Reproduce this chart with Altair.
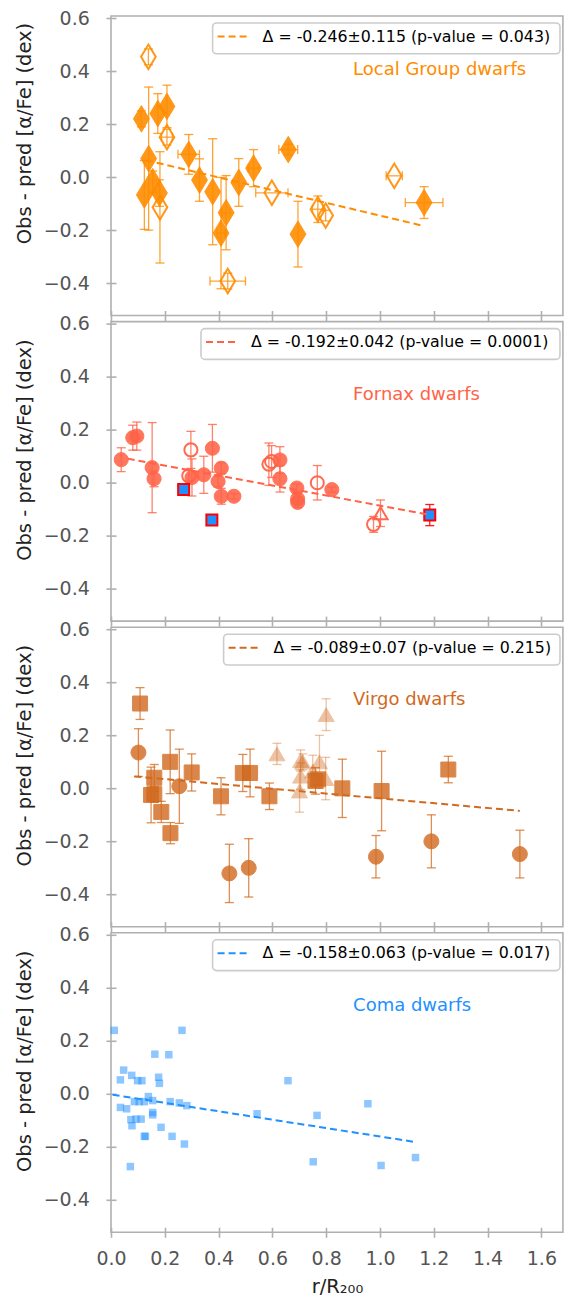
import altair as alt
import pandas as pd

FONT = "DejaVu Sans"
PX_PER_UNIT = 269.0
XMAX = 1.68
W = XMAX * PX_PER_UNIT
H = 299.5
YMIN, YMAX = -0.522, 0.608

# ---------------- data ----------------
# Local Group dwarfs
lg_fill_x = [0.113, 0.140, 0.124, 0.155, 0.174, 0.208, 0.180, 0.289, 0.329, 0.378, 0.428, 0.409, 0.475, 0.530, 0.659, 0.695, 1.164]
lg_fill_y = [0.220, 0.070, -0.067, -0.017, 0.240, 0.267, -0.060, 0.086, -0.011, -0.055, -0.134, -0.211, -0.020, 0.034, 0.104, -0.215, -0.096]
lg_fill_yerr = [0.03, 0.27, 0.13, 0.04, 0.075, 0.08, 0.05, 0.075, 0.08, 0.20, 0.14, 0.21, 0.09, 0.07, 0.02, 0.124, 0.06]
lg_fill_xerr = [0.0, 0.0, 0.0, 0.0, 0.0, 0.0, 0.0, 0.04, 0.0, 0.0, 0.015, 0.015, 0.0, 0.02, 0.035, 0.0, 0.07]
lg_open_x = [0.139, 0.208, 0.182, 0.598, 0.769, 0.798, 1.053, 0.434]
lg_open_y = [0.454, 0.151, -0.114, -0.059, -0.121, -0.145, 0.005, -0.392]
lg_open_yerr = [0.03, 0.03, 0.21, 0.0, 0.05, 0.02, 0.0, 0.03]
lg_open_xerr = [0.0, 0.02, 0.0, 0.06, 0.02, 0.0, 0.03, 0.066]
lg_line_x = [0.13, 1.158]
lg_line_y = [0.064, -0.183]

# Fornax dwarfs
fx_fill_x = [0.038, 0.081, 0.096, 0.153, 0.160, 0.301, 0.345, 0.377, 0.410, 0.398, 0.410, 0.457, 0.628, 0.628, 0.691, 0.694, 0.694, 0.821]
fx_fill_y = [0.087, 0.170, 0.176, 0.057, 0.015, 0.020, 0.030, 0.130, 0.055, 0.005, -0.051, -0.051, 0.086, 0.015, -0.020, -0.061, -0.074, -0.026]
fx_fill_yerr = [0.045, 0.047, 0.053, 0.17, 0.03, 0.07, 0.07, 0.09, 0.02, 0.02, 0.03, 0.01, 0.05, 0.05, 0.015, 0.02, 0.02, 0.01]
fx_open_x = [0.297, 0.289, 0.587, 0.597, 0.767, 0.976]
fx_open_y = [0.124, 0.026, 0.070, 0.080, 0.000, -0.157]
fx_open_yerr = [0.07, 0.02, 0.08, 0.06, 0.065, 0.03]
fx_tri_x = [1.002]
fx_tri_y = [-0.115]
fx_tri_yerr = [0.05]
fx_sq_x = [0.270, 0.375, 1.185]
fx_sq_y = [-0.025, -0.141, -0.122]
fx_sq_yerr = [0.01, 0.01, 0.04]
fx_line_x = [0.062, 1.185]
fx_line_y = [0.091, -0.121]

# Virgo dwarfs
vg_sq_x = [0.108, 0.220, 0.161, 0.149, 0.161, 0.187, 0.221, 0.300, 0.409, 0.490, 0.517, 0.589, 0.760, 0.769, 0.860, 1.006, 1.254]
vg_sq_y = [0.320, 0.100, 0.040, -0.025, -0.022, -0.089, -0.169, 0.060, -0.030, 0.058, 0.058, -0.030, 0.028, 0.034, 0.000, -0.010, 0.071]
vg_sq_yerr = [0.06, 0.12, 0.05, 0.105, 0.03, 0.04, 0.04, 0.07, 0.07, 0.07, 0.09, 0.05, 0.05, 0.02, 0.11, 0.15, 0.05]
vg_circ_x = [0.102, 0.254, 0.440, 0.512, 0.985, 1.191, 1.520]
vg_circ_y = [0.135, 0.008, -0.321, -0.300, -0.258, -0.200, -0.248]
vg_circ_yerr = [0.09, 0.14, 0.11, 0.11, 0.08, 0.10, 0.09]
vg_tri_x = [0.617, 0.705, 0.713, 0.705, 0.701, 0.750, 0.775, 0.798, 0.800]
vg_tri_y = [0.130, 0.105, 0.100, 0.046, -0.010, 0.065, 0.100, 0.037, 0.278]
vg_tri_yerr = [0.04, 0.04, 0.03, 0.05, 0.08, 0.06, 0.10, 0.08, 0.06]
vg_line_x = [0.087, 1.52]
vg_line_y = [0.045, -0.085]

# Coma dwarfs
cm_x = [0.012, 0.264, 0.163, 0.215, 0.047, 0.035, 0.077, 0.099, 0.115, 0.177, 0.180, 0.658, 0.139, 0.155,
        0.105, 0.087, 0.124, 0.220, 0.254, 0.282, 0.035, 0.058, 0.155, 0.155, 0.543, 0.766, 0.955, 0.074,
        0.093, 0.112, 0.078, 0.186, 0.124, 0.128, 0.227, 0.273, 0.072, 0.752, 1.004, 1.132]
cm_y = [0.240, 0.240, 0.150, 0.148, 0.090, 0.053, 0.070, 0.050, 0.050, 0.063, 0.040, 0.050, -0.010, -0.025,
        -0.029, -0.029, -0.029, -0.029, -0.034, -0.044, -0.051, -0.056, -0.070, -0.079, -0.075, -0.081, -0.037, -0.097,
        -0.095, -0.095, -0.120, -0.126, -0.160, -0.160, -0.160, -0.189, -0.274, -0.256, -0.270, -0.240]
cm_line_x = [0.006, 1.129]
cm_line_y = [-0.003, -0.181]

panel_names = ["Local Group dwarfs", "Fornax dwarfs", "Virgo dwarfs", "Coma dwarfs"]
panel_name_y = [0.406, 0.332, 0.332, 0.332]
legend_texts = [
    "Δ = -0.246±0.115 (p-value = 0.043)",
    "Δ = -0.192±0.042 (p-value = 0.0001)",
    "Δ = -0.089±0.07 (p-value = 0.215)",
    "Δ = -0.158±0.063 (p-value = 0.017)",
]
x_ticks = [0.0, 0.2, 0.4, 0.6, 0.8, 1.0, 1.2, 1.4, 1.6]
y_ticks = [-0.4, -0.2, 0.0, 0.2, 0.4, 0.6]

# ---------------- style ----------------
ORANGE = "#ff8c00"
TOMATO = "#ff6347"
CHOC = "#d2691e"
BLUE = "#1e90ff"
FRAME = "#b0b0b0"
THIN_DIAMOND = "M0,-1L0.6,0L0,1L-0.6,0Z"
legend_left = [101.6, 90.0, 112.6, 101.6]
LEGEND_RIGHT = 449.0
ytitle_y = [117, 128, 128, 128]

xscale = alt.Scale(domain=[0, XMAX], nice=False, zero=False)
yscale = alt.Scale(domain=[YMIN, YMAX], nice=False, zero=False)

AX_COMMON = dict(tickSize=10, offset=-5, domain=False, grid=False, tickColor=FRAME, tickWidth=1.6,
                 labelFont=FONT, labelFontSize=19, labelColor="#555555", labelFlush=False,
                 titleFont=FONT, titleFontSize=19.5, titleColor="#222222", titleFontWeight="normal")

xaxis_top = alt.Axis(values=x_ticks, labels=False, title=None, **AX_COMMON)
xaxis_bottom = alt.Axis(values=x_ticks, format=".1f", title="r/R₂₀₀", labelPadding=12.5,
                        titlePadding=9, **AX_COMMON)


def make_yaxis(ty):
    return alt.Axis(values=y_ticks, format=".1f", title="Obs - pred [α/Fe] (dex)", labelPadding=16.7,
                    titleX=-91.2, titleY=ty, titleBaseline="middle", titleAngle=270, **AX_COMMON)


def X(field, axes):
    return alt.X(f"{field}:Q", scale=xscale, axis=axes[0])


def Y(field, axes):
    return alt.Y(f"{field}:Q", scale=yscale, axis=axes[1])


def group(xs, ys, yerr, xerr, axes, color, err_opacity, mark_kw):
    n = len(xs)
    d = pd.DataFrame({"x": xs, "y": ys,
                      "yerr": yerr if yerr is not None else [0.0] * n,
                      "xerr": xerr if xerr is not None else [0.0] * n})
    d["ylo"] = d.y - d.yerr
    d["yhi"] = d.y + d.yerr
    d["xlo"] = d.x - d.xerr
    d["xhi"] = d.x + d.xerr
    layers = []
    dy = d[d.yerr > 0]
    if len(dy):
        b = alt.Chart(dy)
        layers.append(b.mark_rule(color=color, strokeWidth=1.3, opacity=err_opacity)
                      .encode(x=X("x", axes), y=Y("ylo", axes), y2=alt.Y2("yhi")))
        for f in ("ylo", "yhi"):
            layers.append(b.mark_tick(orient="horizontal", size=9, thickness=1.3, color=color,
                                      opacity=err_opacity).encode(x=X("x", axes), y=Y(f, axes)))
    dx = d[d.xerr > 0]
    if len(dx):
        b = alt.Chart(dx)
        layers.append(b.mark_rule(color=color, strokeWidth=1.3, opacity=err_opacity)
                      .encode(x=X("xlo", axes), x2=alt.X2("xhi"), y=Y("y", axes)))
        for f in ("xlo", "xhi"):
            layers.append(b.mark_tick(orient="vertical", size=9, thickness=1.3, color=color,
                                      opacity=err_opacity).encode(x=X(f, axes), y=Y("y", axes)))
    layers.append(alt.Chart(d).mark_point(**mark_kw).encode(x=X("x", axes), y=Y("y", axes)))
    return layers


def extras(i, lx, ly, color, axes):
    layers = []
    layers.append(alt.Chart(pd.DataFrame({"x": lx, "y": ly}))
                  .mark_line(color=color, strokeDash=[7, 4], strokeWidth=2)
                  .encode(x=X("x", axes), y=Y("y", axes)))
    layers.append(alt.Chart(pd.DataFrame({"x": [0.9], "y": [panel_name_y[i]], "t": [panel_names[i]]}))
                  .mark_text(align="left", baseline="middle", font=FONT, fontSize=18, color=color)
                  .encode(x=X("x", axes), y=Y("y", axes), text="t:N"))
    bl = legend_left[i]
    leg = alt.Chart(pd.DataFrame({"t": [legend_texts[i]]}))
    layers.append(leg.mark_rect(fill="white", fillOpacity=0.85, stroke="#cccccc", strokeWidth=1.6,
                                cornerRadius=4)
                  .encode(x=alt.value(bl), x2=alt.value(LEGEND_RIGHT), y=alt.value(7), y2=alt.value(37.8)))
    layers.append(leg.mark_rule(color=color, strokeDash=[7, 4], strokeWidth=2)
                  .encode(x=alt.value(bl + 5), x2=alt.value(bl + 36), y=alt.value(20.5)))
    layers.append(leg.mark_text(align="left", baseline="middle", font=FONT, fontSize=15.8, color="black")
                  .encode(x=alt.value(bl + 50), y=alt.value(20.5), text="t:N"))
    return layers


# Panel 1: Local Group
ax = (xaxis_top, make_yaxis(ytitle_y[0]))
p1 = []
p1 += group(lg_fill_x, lg_fill_y, lg_fill_yerr, lg_fill_xerr, ax, ORANGE, 0.8,
            dict(shape=THIN_DIAMOND, size=700, filled=True, fill=ORANGE, stroke=ORANGE, strokeWidth=1, opacity=0.9))
p1 += group(lg_open_x, lg_open_y, lg_open_yerr, lg_open_xerr, ax, ORANGE, 0.8,
            dict(shape=THIN_DIAMOND, size=600, filled=False, stroke=ORANGE, strokeWidth=2, opacity=0.9))
p1 += extras(0, lg_line_x, lg_line_y, ORANGE, ax)

# Panel 2: Fornax
ax = (xaxis_top, make_yaxis(ytitle_y[1]))
p2 = []
p2 += group(fx_fill_x, fx_fill_y, fx_fill_yerr, None, ax, TOMATO, 0.8,
            dict(shape="circle", size=200, filled=True, fill=TOMATO, stroke=TOMATO, strokeWidth=1, opacity=0.88))
p2 += group(fx_open_x, fx_open_y, fx_open_yerr, None, ax, TOMATO, 0.8,
            dict(shape="circle", size=170, filled=False, stroke=TOMATO, strokeWidth=2, opacity=0.95))
p2 += group(fx_tri_x, fx_tri_y, fx_tri_yerr, None, ax, TOMATO, 0.8,
            dict(shape="triangle-up", size=200, filled=False, stroke=TOMATO, strokeWidth=2, opacity=0.95))
p2 += group(fx_sq_x, fx_sq_y, fx_sq_yerr, None, ax, "#ff0000", 0.9,
            dict(shape="square", size=121, filled=True, fill=BLUE, stroke="#ff0000", strokeWidth=2, opacity=1))
p2 += extras(1, fx_line_x, fx_line_y, TOMATO, ax)

# Panel 3: Virgo
ax = (xaxis_top, make_yaxis(ytitle_y[2]))
p3 = []
p3 += group(vg_tri_x, vg_tri_y, vg_tri_yerr, None, ax, CHOC, 0.4,
            dict(shape="triangle-up", size=256, filled=True, fill=CHOC, stroke=CHOC, strokeWidth=1, opacity=0.4))
p3 += group(vg_sq_x, vg_sq_y, vg_sq_yerr, None, ax, CHOC, 0.75,
            dict(shape="square", size=225, filled=True, fill=CHOC, stroke=CHOC, strokeWidth=1, opacity=0.8))
p3 += group(vg_circ_x, vg_circ_y, vg_circ_yerr, None, ax, CHOC, 0.75,
            dict(shape="circle", size=225, filled=True, fill=CHOC, stroke=CHOC, strokeWidth=1, opacity=0.8))
p3 += extras(2, vg_line_x, vg_line_y, CHOC, ax)

# Panel 4: Coma
ax = (xaxis_bottom, make_yaxis(ytitle_y[3]))
p4 = []
p4 += group(cm_x, cm_y, None, None, ax, BLUE, 0.5,
            dict(shape="square", size=56, filled=True, fill=BLUE, strokeWidth=0, opacity=0.5))
p4 += extras(3, cm_line_x, cm_line_y, BLUE, ax)

panels = [alt.layer(*p).properties(width=W, height=H) for p in (p1, p2, p3, p4)]

chart = alt.vconcat(*panels, spacing=5.6, bounds="flush").properties(
    padding={"left": 5, "top": 0, "right": 0, "bottom": 0}
).configure_view(
    stroke=FRAME, strokeWidth=1.6
)

chart.save("out.html", embed_options={"renderer": "svg", "actions": False})
